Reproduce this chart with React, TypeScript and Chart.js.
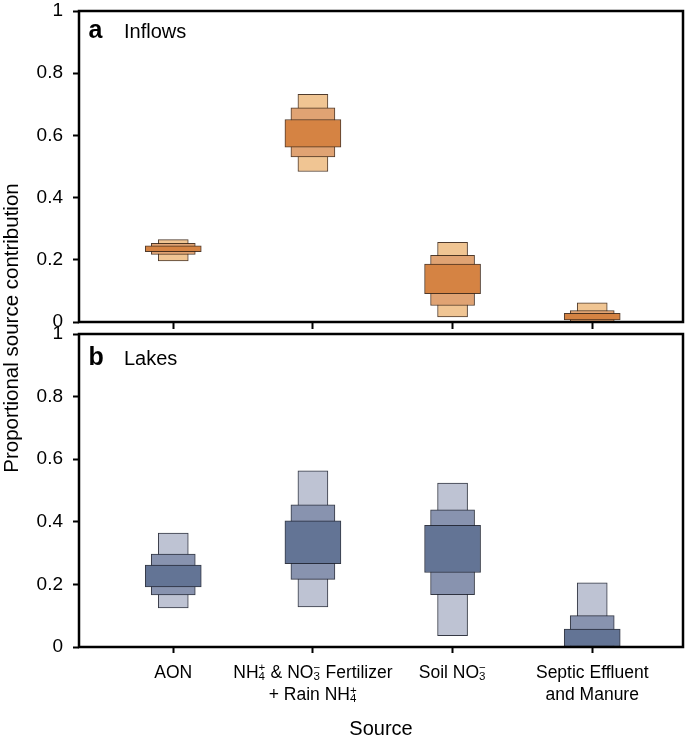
import React, { useEffect, useRef } from 'react';
import { Chart, registerables } from 'chart.js';

Chart.register(...registerables);

const FAMILY = "'Liberation Sans', Arial, Helvetica, sans-serif";

// Categories (x positions on a linear axis)
const categories = ['AON', 'NH4+ & NO3- Fertilizer + Rain NH4+', 'Soil NO3-', 'Septic Effluent and Manure'];
const xPositions = [1, 2, 3, 4];

// y-axis ticks
const yTicks = [0, 0.2, 0.4, 0.6, 0.8, 1];
const yTickLabels = ['0', '0.2', '0.4', '0.6', '0.8', '1'];

// Panel a: Inflows (credible intervals, 95 / 75 / 50 %)
const inflowsLow95 = [0.196, 0.484, 0.016, 0.0];
const inflowsHigh95 = [0.265, 0.732, 0.256, 0.062];
const inflowsLow75 = [0.217, 0.531, 0.053, 0.001];
const inflowsHigh75 = [0.253, 0.689, 0.214, 0.037];
const inflowsLow50 = [0.226, 0.562, 0.091, 0.007];
const inflowsHigh50 = [0.245, 0.651, 0.186, 0.028];

// Panel b: Lakes
const lakesLow95 = [0.125, 0.128, 0.036, 0.0];
const lakesHigh95 = [0.364, 0.563, 0.524, 0.205];
const lakesLow75 = [0.166, 0.216, 0.167, 0.0];
const lakesHigh75 = [0.297, 0.454, 0.438, 0.1];
const lakesLow50 = [0.192, 0.266, 0.238, 0.0];
const lakesHigh50 = [0.262, 0.403, 0.389, 0.057];

// x tick labels with stacked super/subscripts
type Part = { t?: string; sup?: string; sub?: string };
const xLabelLines: Part[][][] = [
  [[{ t: 'AON' }]],
  [
    [{ t: 'NH' }, { sup: '+', sub: '4' }, { t: ' & NO' }, { sup: '\u2212', sub: '3' }, { t: ' Fertilizer' }],
    [{ t: '+ Rain NH' }, { sup: '+', sub: '4' }],
  ],
  [[{ t: 'Soil NO' }, { sup: '\u2212', sub: '3' }]],
  [[{ t: 'Septic Effluent' }], [{ t: 'and Manure' }]],
];

const yTitle = 'Proportional source contribution';
const xTitle = 'Source';

function toData(lo: number[], hi: number[]) {
  return xPositions.map((x, i) => ({ x, y: [lo[i], hi[i]] }));
}

function drawRich(ctx: CanvasRenderingContext2D, parts: Part[], cx: number, baseline: number) {
  const big = `17.5px ${FAMILY}`;
  const small = `11.5px ${FAMILY}`;
  const widths = parts.map((p) => {
    if (p.t !== undefined) {
      ctx.font = big;
      return ctx.measureText(p.t).width;
    }
    ctx.font = small;
    return Math.max(ctx.measureText(p.sup || '').width, ctx.measureText(p.sub || '').width) + 0.5;
  });
  const total = widths.reduce((a, b) => a + b, 0);
  let x = cx - total / 2;
  ctx.textAlign = 'left';
  ctx.textBaseline = 'alphabetic';
  parts.forEach((p, i) => {
    if (p.t !== undefined) {
      ctx.font = big;
      ctx.fillText(p.t, x, baseline);
    } else {
      ctx.font = small;
      if (p.sup) ctx.fillText(p.sup, x, baseline - 6.5);
      if (p.sub) ctx.fillText(p.sub, x, baseline + 2);
    }
    x += widths[i];
  });
}

type Panel = {
  key: string;
  letter: string;
  title: string;
  labelDy: number;
  low95: number[];
  high95: number[];
  low75: number[];
  high75: number[];
  low50: number[];
  high50: number[];
  colors: string[];
  border: string;
  padding: { top: number; left: number; right: number; bottom: number };
  xHeight: number;
  xTickLen: number;
  axisText: boolean;
};

function makeConfig(p: Panel): any {
  const base = { borderColor: p.border, borderWidth: 1, borderSkipped: false, grouped: false };
  const datasets = [
    { label: '95%', data: toData(p.low95, p.high95), backgroundColor: p.colors[0], barThickness: 30, order: 3, ...base },
    { label: '75%', data: toData(p.low75, p.high75), backgroundColor: p.colors[1], barThickness: 44, order: 2, ...base },
    { label: '50%', data: toData(p.low50, p.high50), backgroundColor: p.colors[2], barThickness: 56, order: 1, ...base },
  ];
  const decor = {
    id: 'decor' + p.key,
    afterDatasetsDraw(chart: any) {
      const { ctx, chartArea: ca } = chart;
      ctx.save();
      ctx.strokeStyle = '#000';
      ctx.lineWidth = 2.5;
      ctx.strokeRect(ca.left, ca.top, ca.right - ca.left, ca.bottom - ca.top);
      ctx.fillStyle = '#000';
      ctx.textAlign = 'left';
      ctx.textBaseline = 'alphabetic';
      ctx.font = `bold 25px ${FAMILY}`;
      ctx.fillText(p.letter, ca.left + 9.5, ca.top + p.labelDy);
      ctx.font = `20px ${FAMILY}`;
      ctx.fillText(p.title, ca.left + 45, ca.top + p.labelDy);
      if (p.axisText) {
        const xs = chart.scales.x;
        xLabelLines.forEach((lines, i) => {
          const cx = xs.getPixelForValue(xPositions[i]);
          lines.forEach((line, j) => drawRich(ctx, line, cx, ca.bottom + 30.5 + j * 22.5));
        });
        ctx.font = `20px ${FAMILY}`;
        ctx.textAlign = 'center';
        ctx.fillText(xTitle, (ca.left + ca.right) / 2, ca.bottom + 88);
        ctx.save();
        ctx.translate(17.5, 328);
        ctx.rotate(-Math.PI / 2);
        ctx.font = `20.5px ${FAMILY}`;
        ctx.textAlign = 'center';
        ctx.fillText(yTitle, 0, 0);
        ctx.restore();
      }
      ctx.restore();
    },
  };
  return {
    type: 'bar',
    data: { datasets },
    options: {
      responsive: false,
      animation: false,
      events: [],
      layout: { padding: p.padding },
      plugins: { legend: { display: false }, tooltip: { enabled: false } },
      scales: {
        x: {
          type: 'linear',
          min: 0.325,
          max: 4.65,
          offset: false,
          afterBuildTicks: (s: any) => {
            s.ticks = xPositions.map((v) => ({ value: v }));
          },
          afterFit: (s: any) => {
            s.height = p.xHeight;
            s.paddingLeft = 0;
            s.paddingRight = 0;
          },
          ticks: { display: false },
          grid: {
            display: true,
            offset: false,
            drawOnChartArea: false,
            drawTicks: true,
            tickLength: p.xTickLen,
            tickColor: '#000',
            tickWidth: 2,
          },
          border: { display: false },
        },
        y: {
          type: 'linear',
          min: 0,
          max: 1,
          afterBuildTicks: (s: any) => {
            s.ticks = yTicks.map((v) => ({ value: v }));
          },
          afterFit: (s: any) => {
            s.width = 79;
            s.paddingTop = 0;
            s.paddingBottom = 0;
          },
          ticks: {
            autoSkip: false,
            callback: (_v: any, i: number) => yTickLabels[i],
            font: { family: FAMILY, size: 19 },
            color: '#000',
            padding: 10,
          },
          grid: {
            display: true,
            offset: false,
            drawOnChartArea: false,
            drawTicks: true,
            tickLength: 6,
            tickColor: '#000',
            tickWidth: 2,
          },
          border: { display: false },
        },
      },
    },
    plugins: [decor],
  };
}

const panelA: Panel = {
  key: 'a',
  letter: 'a',
  title: 'Inflows',
  labelDy: 26.5,
  low95: inflowsLow95,
  high95: inflowsHigh95,
  low75: inflowsLow75,
  high75: inflowsHigh75,
  low50: inflowsLow50,
  high50: inflowsHigh50,
  colors: ['#F0C593', '#E0A373', '#D58343'],
  border: 'rgba(60,38,22,0.9)',
  padding: { top: 11, left: 0, right: 2, bottom: 410 },
  xHeight: 8,
  xTickLen: 7,
  axisText: false,
};

const panelB: Panel = {
  key: 'b',
  letter: 'b',
  title: 'Lakes',
  labelDy: 31,
  low95: lakesLow95,
  high95: lakesHigh95,
  low75: lakesLow75,
  high75: lakesHigh75,
  low50: lakesLow50,
  high50: lakesHigh50,
  colors: ['#BEC3D3', '#8893AF', '#637495'],
  border: 'rgba(30,34,48,0.9)',
  padding: { top: 334, left: 0, right: 2, bottom: 0 },
  xHeight: 93,
  xTickLen: 6,
  axisText: true,
};

export default function App() {
  const refA = useRef<HTMLCanvasElement>(null);
  const refB = useRef<HTMLCanvasElement>(null);
  useEffect(() => {
    const a = new Chart(refA.current as HTMLCanvasElement, makeConfig(panelA));
    const b = new Chart(refB.current as HTMLCanvasElement, makeConfig(panelB));
    return () => {
      a.destroy();
      b.destroy();
    };
  }, []);
  return (
    <div style={{ position: 'absolute', left: 0, top: 0, width: 685, height: 740, background: '#fff' }}>
      <canvas ref={refA} width={685} height={740} style={{ position: 'absolute', left: 0, top: 0 }} />
      <canvas ref={refB} width={685} height={740} style={{ position: 'absolute', left: 0, top: 0 }} />
    </div>
  );
}
